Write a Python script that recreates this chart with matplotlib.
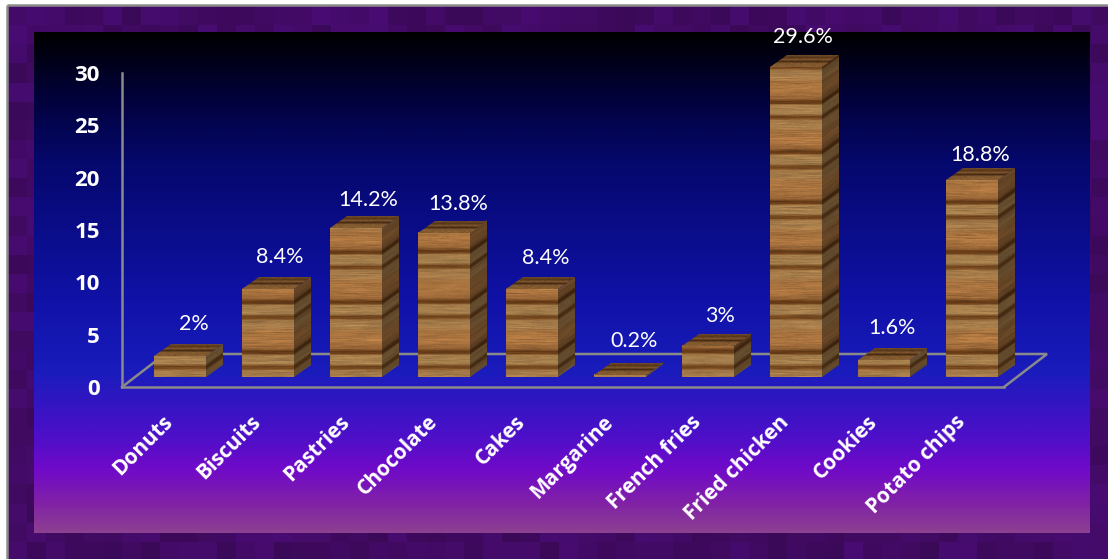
import numpy as np
import matplotlib
matplotlib.use("Agg")
import matplotlib.pyplot as plt
from matplotlib.colors import LinearSegmentedColormap
from matplotlib.transforms import Affine2D

categories = ["Donuts", "Biscuits", "Pastries", "Chocolate", "Cakes",
              "Margarine", "French fries", "Fried chicken", "Cookies", "Potato chips"]
values = [2, 8.4, 14.2, 13.8, 8.4, 0.2, 3, 29.6, 1.6, 18.8]
y_ticks = [0, 5, 10, 15, 20, 25, 30]

# label nudges in pixels, relative to the top of each bar's front face
label_dx = [14, 12, 12, 14, 14, 14, 12, 7, 8, 8]
label_dy = [32, 32, 28, 29, 31, 34, 30, 30, 32, 25]

W, H = 1108, 559
FONT = "Lato"
BOLD_FONT = "Open Sans"
PX_X = 88.0            # pixels per category
PX_Y = 314 / 30        # pixels per unit
BAR_W = 52 / PX_X
DEPTH_X = 17 / PX_X
DEPTH_Y = 12 / PX_Y

rng = np.random.default_rng(7)


def rgba(rgb):
    return np.dstack([np.clip(rgb, 0, 1), np.ones(rgb.shape[:2])])


def wood_tile(width, height):
    # plank pattern repeats every 50 px, measured from the bar's foot
    pos = [0, 6, 8, 10, 13, 21, 23, 25, 28, 36, 44, 50]
    red = [168, 160, 122, 112, 166, 164, 108, 100, 150, 176, 166, 168]
    grn = [126, 118, 76, 68, 128, 124, 64, 58, 100, 120, 114, 126]
    blu = [76, 70, 34, 28, 78, 74, 26, 22, 54, 66, 62, 76]
    rows = np.arange(height) % 50
    base = np.stack([np.interp(rows, pos, c) for c in (red, grn, blu)], axis=1)
    streak = rng.normal(0, 1, (height, width))
    kernel = np.ones(21) / 21
    streak = np.apply_along_axis(lambda r: np.convolve(r, kernel, mode="same"), 1, streak)
    shade = 1 + 0.24 * streak
    return base[:, None, :] * shade[:, :, None] / 255


def top_tile():
    pos = [0, 3, 5, 7, 9, 12]
    red = [132, 128, 72, 122, 88, 118]
    grn = [92, 88, 44, 82, 56, 80]
    blu = [50, 46, 20, 42, 28, 42]
    rows = np.arange(12)
    base = np.stack([np.interp(rows, pos, c) for c in (red, grn, blu)], axis=1)
    shade = 1 + 0.06 * rng.normal(0, 1, (12, 52))
    return base[:, None, :] * shade[:, :, None] / 255


fig = plt.figure(figsize=(W / 100, H / 100), dpi=100, facecolor="white")

# page layer in pixel coordinates: mosaic border, gradient panel, floor outline
bg = fig.add_axes([0, 0, 1, 1], zorder=0)
bg.set_xlim(0, W)
bg.set_ylim(H, 0)
bg.axis("off")

mosaic_cmap = LinearSegmentedColormap.from_list("mosaic", ["#3a0957", "#3f0a5f", "#440b69", "#480b72"])
bg.imshow(rng.random((29, 58)), cmap=mosaic_cmap, extent=(8, 1110, 561, 6),
          interpolation="nearest", aspect="auto")
bg.plot([7, 7], [H, 5], color="#8c8c8c", lw=1.8, solid_capstyle="butt")
bg.plot([7, W], [5, 5], color="#8c8c8c", lw=1.8, solid_capstyle="butt")

panel_cmap = LinearSegmentedColormap.from_list("panel", [
    (0.00, "#000000"), (0.14, "#020240"), (0.26, "#05086c"), (0.54, "#1012a8"),
    (0.68, "#1a1cbc"), (0.80, "#4a10c8"), (0.875, "#700ac8"), (0.94, "#8020a8"),
    (1.00, "#8c4090")])
bg.imshow(np.linspace(0, 1, 501)[:, None], cmap=panel_cmap, extent=(34, 1090, 533, 32),
          aspect="auto", interpolation="bilinear")
bg.set_xlim(0, W)
bg.set_ylim(H, 0)

bg.plot([122, 165, 1047, 1004], [387, 354, 354, 387], color="#8a8a8a", lw=1.8,
        solid_joinstyle="miter")

# chart layer: the value axis and front edge of the floor are its spines
ax = fig.add_axes([122 / W, (H - 387) / H, (1004 - 122) / W, 314 / H], zorder=1)
ax.patch.set_visible(False)
for side in ("top", "right"):
    ax.spines[side].set_visible(False)
for side in ("left", "bottom"):
    ax.spines[side].set_color("#8a8a8a")
    ax.spines[side].set_linewidth(1.8)

# bars stand on the floor, 10 px behind its front edge
lift = Affine2D().translate(0, 10)
bar_trans = ax.transData + lift

x = np.arange(len(values))
bars = ax.bar(x, values, width=BAR_W, color="#a0703c", edgecolor="none", zorder=1)
for patch in bars:
    patch.set_transform(bar_trans)
    patch.set_clip_on(False)

for i, v in zip(x, values):
    rows = max(int(round(v * PX_Y)), 2)
    tile = wood_tile(52, rows)

    # front face
    ax.imshow(rgba(tile), extent=(i - BAR_W / 2, i + BAR_W / 2, 0, v), origin="lower",
              aspect="auto", interpolation="bilinear", transform=bar_trans, clip_on=False, zorder=2)

    # side face, sheared back and darkened
    side = Affine2D.from_values(DEPTH_X, DEPTH_Y, 0, v, i + BAR_W / 2, 0)
    ax.imshow(rgba(tile[:, :17] * 0.6), extent=(0, 1, 0, 1), origin="lower", aspect="auto",
              interpolation="bilinear", transform=side + bar_trans, clip_on=False, zorder=2)

    # top face
    top = Affine2D.from_values(BAR_W, 0, DEPTH_X, DEPTH_Y, i - BAR_W / 2, v)
    ax.imshow(rgba(top_tile()), extent=(0, 1, 0, 1), origin="lower", aspect="auto",
              interpolation="bilinear", transform=top + bar_trans, clip_on=False, zorder=2)

ax.set_xlim(-58 / PX_X, (1004 - 180) / PX_X)
ax.set_ylim(0, 30)

ax.set_yticks(y_ticks)
ax.tick_params(axis="y", length=0, pad=16, labelsize=16, labelcolor="white")
ax.set_xticks(x, categories)
ax.tick_params(axis="x", length=0, labelsize=15, labelcolor="white")
for lab in ax.get_yticklabels():
    lab.set_fontfamily(BOLD_FONT)
    lab.set_fontweight("bold")

# category labels end just left of each bar's centre
label_shift = Affine2D().translate(-10, -27)
for lab in ax.get_xticklabels():
    lab.set_fontfamily(BOLD_FONT)
    lab.set_fontweight("bold")
    lab.set_rotation(45)
    lab.set_rotation_mode("anchor")
    lab.set_ha("right")
    lab.set_va("center")
    lab.set_transform(lab.get_transform() + label_shift)

for i, v, dx, dy in zip(x, values, label_dx, label_dy):
    ax.annotate(f"{v:g}%", xy=(i, v), xycoords=bar_trans, xytext=(dx * 0.72, dy * 0.72),
                textcoords="offset points", ha="center", va="center", color="white",
                fontsize=15.5, fontfamily=FONT, annotation_clip=False)

fig.savefig("out.png", dpi=100)
